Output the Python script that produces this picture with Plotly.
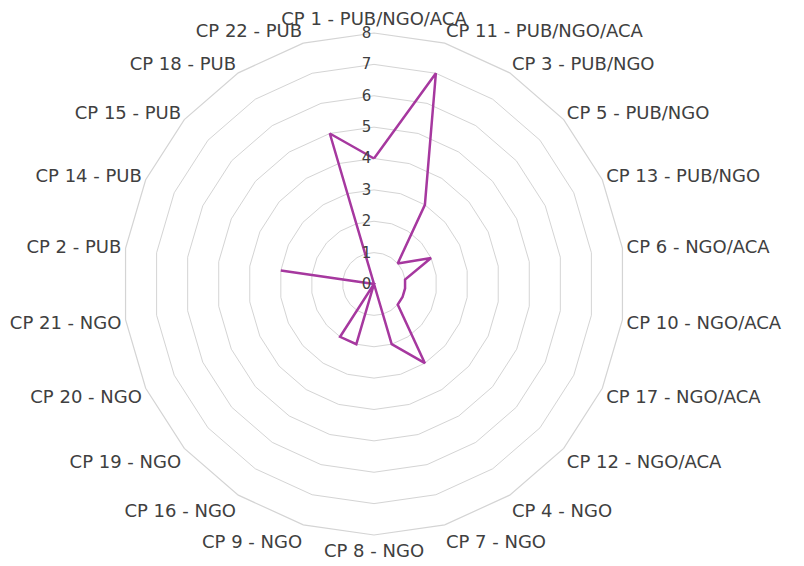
import plotly.graph_objects as go

categories = ["CP 1 - PUB/NGO/ACA", "CP 11 - PUB/NGO/ACA", "CP 3 - PUB/NGO", "CP 5 - PUB/NGO",
              "CP 13 - PUB/NGO", "CP 6 - NGO/ACA", "CP 10 - NGO/ACA", "CP 17 - NGO/ACA",
              "CP 12 - NGO/ACA", "CP 4 - NGO", "CP 7 - NGO", "CP 8 - NGO", "CP 9 - NGO",
              "CP 16 - NGO", "CP 19 - NGO", "CP 20 - NGO", "CP 21 - NGO", "CP 2 - PUB",
              "CP 14 - PUB", "CP 15 - PUB", "CP 18 - PUB", "CP 22 - PUB"]
values = [4, 7, 3, 1, 2, 1, 1, 1, 1, 3, 2, 0, 2, 2, 0, 0, 0, 3, 0, 0, 0, 5]
radial_ticks = [0, 1, 2, 3, 4, 5, 6, 7, 8]

fig = go.Figure()
fig.add_trace(go.Scatterpolar(
    r=values + values[:1],
    theta=categories + categories[:1],
    mode="lines",
    line=dict(color="#A6389F", width=2.5),
    hoverinfo="skip",
))

# page body has an 8px default margin, so the figure is drawn 8px in from the window edges
OFF = 8
W, H = 804 - OFF, 566 - OFF
cx, cy, R = 374 - OFF, 284 - OFF, 251
fig.update_layout(
    width=W, height=H,
    margin=dict(l=0, r=0, t=0, b=0),
    paper_bgcolor="white",
    plot_bgcolor="white",
    showlegend=False,
    font=dict(family="DejaVu Sans, sans-serif", color="#404040", size=18),
    polar=dict(
        domain=dict(x=[(cx - R) / W, (cx + R) / W], y=[(H - cy - R) / H, (H - cy + R) / H]),
        bgcolor="white",
        gridshape="linear",
        angularaxis=dict(
            rotation=90, direction="clockwise",
            showline=True, linecolor="#D4D4D4", linewidth=1.2,
            showgrid=False,
            ticks="", tickfont=dict(size=18, color="#404040"),
        ),
        radialaxis=dict(
            range=[0, 8], tickvals=radial_ticks, angle=90,
            side="counterclockwise",
            showline=False, gridcolor="#D4D4D4", gridwidth=1,
            ticks="", tickfont=dict(size=15, color="#404040"),
            tickangle=90, ticksuffix="\u00a0" * 6,
        ),
    ),
)

fig.write_html("out.html")
